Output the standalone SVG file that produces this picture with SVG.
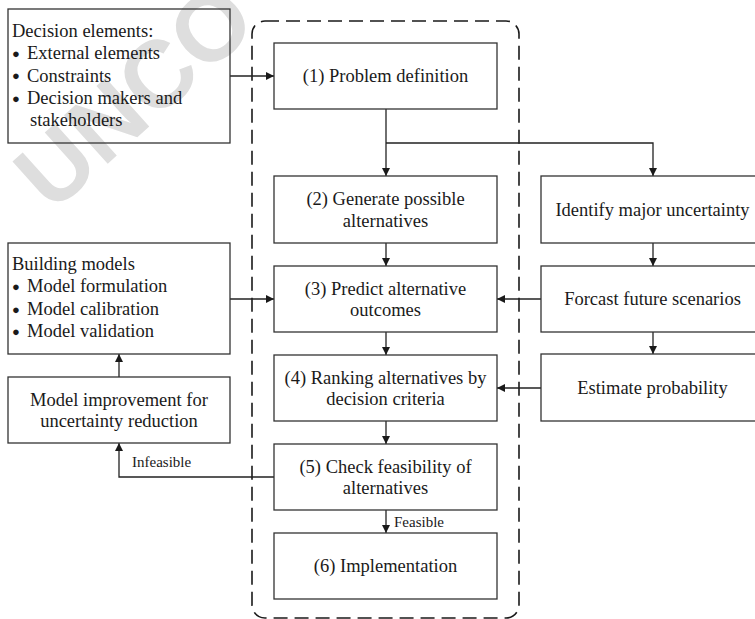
<svg xmlns="http://www.w3.org/2000/svg" width="755" height="619" viewBox="0 0 755 619">
<style>
text{font-family:"Liberation Serif","Times New Roman",serif;font-size:18.5px;fill:#1a1a1a}
.c{text-anchor:middle}
.s{font-size:15px}
.bl{font-size:13px}
.box{fill:none;stroke:#333;stroke-width:1.3}
.ln{fill:none;stroke:#222;stroke-width:1.3}
.wm{font-family:"Liberation Sans",Arial,sans-serif;font-weight:bold;font-size:95px;fill:#dedede}
</style>
<defs>
<marker id="ah" viewBox="0 0 10 10" refX="10" refY="5" markerWidth="8" markerHeight="8" markerUnits="userSpaceOnUse" orient="auto">
<path d="M0,0 L10,5 L0,10 Z" fill="#1a1a1a"/>
</marker>
</defs>
<rect width="755" height="619" fill="#fff"/>
<text class="wm" x="52" y="214" transform="rotate(-42 52 214)">UNCO</text>

<rect x="252" y="21" width="267" height="597" rx="13" fill="none" stroke="#1a1a1a" stroke-width="1.6" stroke-dasharray="14 7"/>

<g id="connectors">
<path class="ln" d="M230,76 H274" marker-end="url(#ah)"/>
<path class="ln" d="M386,109 V176" marker-end="url(#ah)"/>
<path class="ln" d="M386,143 H653 V176" marker-end="url(#ah)"/>
<path class="ln" d="M386,243 V266" marker-end="url(#ah)"/>
<path class="ln" d="M386,332 V355" marker-end="url(#ah)"/>
<path class="ln" d="M386,421 V444" marker-end="url(#ah)"/>
<path class="ln" d="M386,510 V533" marker-end="url(#ah)"/>
<path class="ln" d="M653,243 V266" marker-end="url(#ah)"/>
<path class="ln" d="M653,332 V354" marker-end="url(#ah)"/>
<path class="ln" d="M541,299 H497" marker-end="url(#ah)"/>
<path class="ln" d="M541,388 H497" marker-end="url(#ah)"/>
<path class="ln" d="M230,299 H274" marker-end="url(#ah)"/>
<path class="ln" d="M119,377 V354" marker-end="url(#ah)"/>
<path class="ln" d="M274,477 H119 V443" marker-end="url(#ah)"/>
<text class="s" x="132" y="467">Infeasible</text>
<text class="s" x="394" y="527">Feasible</text>
</g>

<g id="decision-elements">
<rect class="box" x="8" y="9" width="222" height="134"/>
<text x="12" y="37">Decision elements:</text>
<text class="bl" x="12" y="58">●</text><text x="27" y="59.3">External elements</text>
<text class="bl" x="12" y="80.4">●</text><text x="27" y="81.7">Constraints</text>
<text class="bl" x="12" y="102.7">●</text><text x="27" y="104">Decision makers and</text>
<text x="30" y="126.3">stakeholders</text>
</g>

<g id="building-models">
<rect class="box" x="8" y="243" width="222" height="111"/>
<text x="12" y="270">Building models</text>
<text class="bl" x="12" y="291">●</text><text x="27" y="292.3">Model formulation</text>
<text class="bl" x="12" y="313.7">●</text><text x="27" y="315">Model calibration</text>
<text class="bl" x="12" y="336">●</text><text x="27" y="337.3">Model validation</text>
</g>

<g id="model-improvement">
<rect class="box" x="8" y="377" width="222" height="66"/>
<text class="c" x="119" y="405.5">Model improvement for</text>
<text class="c" x="119" y="427">uncertainty reduction</text>
</g>

<g id="step1">
<rect class="box" x="274" y="43" width="223" height="66"/>
<text class="c" x="385.5" y="82">(1) Problem definition</text>
</g>
<g id="step2">
<rect class="box" x="274" y="176" width="223" height="67"/>
<text class="c" x="385.5" y="205">(2) Generate possible</text>
<text class="c" x="385.5" y="226.5">alternatives</text>
</g>
<g id="step3">
<rect class="box" x="274" y="266" width="223" height="66"/>
<text class="c" x="385.5" y="294.5">(3) Predict alternative</text>
<text class="c" x="385.5" y="316">outcomes</text>
</g>
<g id="step4">
<rect class="box" x="274" y="355" width="223" height="66"/>
<text class="c" x="385.5" y="383.5">(4) Ranking alternatives by</text>
<text class="c" x="385.5" y="405">decision criteria</text>
</g>
<g id="step5">
<rect class="box" x="274" y="444" width="223" height="66"/>
<text class="c" x="385.5" y="472.5">(5) Check feasibility of</text>
<text class="c" x="385.5" y="494">alternatives</text>
</g>
<g id="step6">
<rect class="box" x="274" y="533" width="223" height="66"/>
<text class="c" x="385.5" y="572">(6) Implementation</text>
</g>

<g id="identify">
<rect class="box" x="541" y="176" width="223" height="67"/>
<text class="c" x="652.5" y="215.7">Identify major uncertainty</text>
</g>
<g id="forecast">
<rect class="box" x="541" y="266" width="223" height="66"/>
<text class="c" x="652.5" y="305">Forcast future scenarios</text>
</g>
<g id="estimate">
<rect class="box" x="541" y="354" width="223" height="67"/>
<text class="c" x="652.5" y="394">Estimate probability</text>
</g>
</svg>
